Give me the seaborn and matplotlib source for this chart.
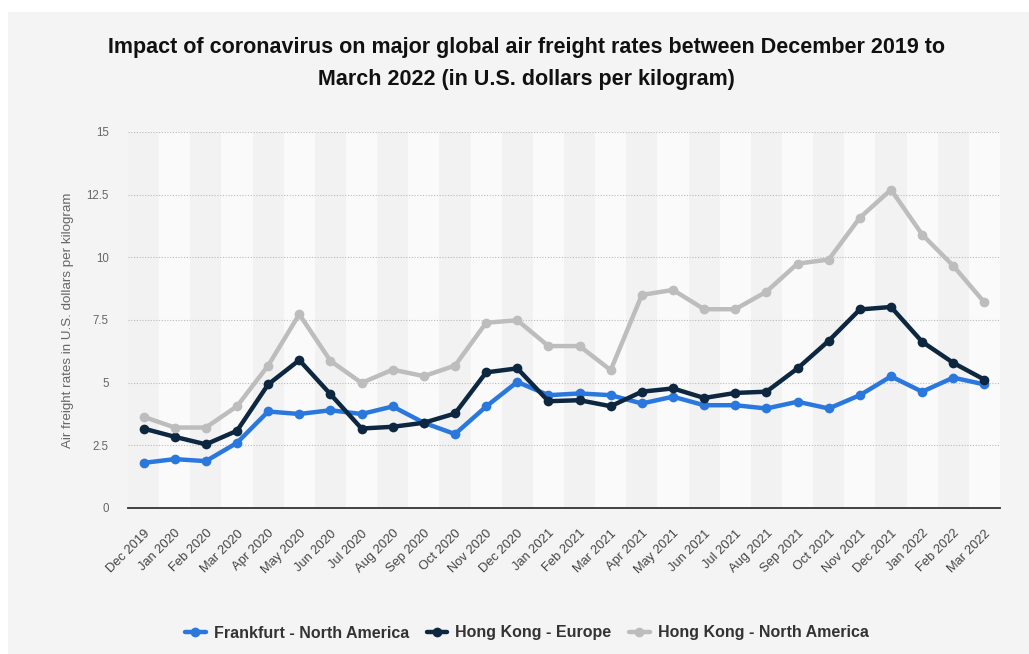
import matplotlib
matplotlib.use("Agg")
import matplotlib.pyplot as plt
import seaborn as sns
import pandas as pd
from matplotlib.patches import Rectangle
from matplotlib.lines import Line2D

months = ["Dec 2019", "Jan 2020", "Feb 2020", "Mar 2020", "Apr 2020", "May 2020", "Jun 2020",
          "Jul 2020", "Aug 2020", "Sep 2020", "Oct 2020", "Nov 2020", "Dec 2020", "Jan 2021",
          "Feb 2021", "Mar 2021", "Apr 2021", "May 2021", "Jun 2021", "Jul 2021", "Aug 2021",
          "Sep 2021", "Oct 2021", "Nov 2021", "Dec 2021", "Jan 2022", "Feb 2022", "Mar 2022"]

frankfurt_na = [1.8, 1.95, 1.87, 2.6, 3.85, 3.75, 3.9, 3.75, 4.05, 3.4, 2.95, 4.05, 5.03, 4.5,
                4.57, 4.5, 4.17, 4.44, 4.1, 4.1, 3.97, 4.24, 3.97, 4.5, 5.25, 4.64, 5.2, 4.93]
hongkong_eu = [3.17, 2.84, 2.54, 3.08, 4.93, 5.9, 4.54, 3.17, 3.24, 3.4, 3.77, 5.41, 5.57, 4.26,
               4.3, 4.06, 4.64, 4.77, 4.39, 4.59, 4.64, 5.57, 6.67, 7.92, 8.02, 6.63, 5.79, 5.12]
hongkong_na = [3.64, 3.21, 3.21, 4.06, 5.68, 7.73, 5.87, 4.99, 5.52, 5.26, 5.68, 7.39, 7.49, 6.46,
               6.46, 5.5, 8.5, 8.7, 7.93, 7.93, 8.63, 9.75, 9.91, 11.58, 12.7, 10.91, 9.66, 8.2]

series_names = ["Frankfurt - North America", "Hong Kong - Europe", "Hong Kong - North America"]
colors = ["#2a78de", "#0e2740", "#bdbdbd"]
y_ticks = [0, 2.5, 5, 7.5, 10, 12.5, 15]
y_tick_labels = ["0", "2.5", "5", "7.5", "10", "12.5", "15"]

rows = []
for name, vals in zip(series_names, [frankfurt_na, hongkong_eu, hongkong_na]):
    for i, v in enumerate(vals):
        rows.append({"idx": i, "month": months[i], "value": v, "series": name})
df = pd.DataFrame(rows)

sns.set_theme(style="white")
plt.rcParams["font.family"] = ["Liberation Sans", "DejaVu Sans"]

fig = plt.figure(figsize=(10.29, 6.54), dpi=100)
fig.patch.set_facecolor("#f4f4f4")
# white margin strips on top/left
fig.patches.append(Rectangle((0, 1 - 12 / 654), 1, 12 / 654, transform=fig.transFigure,
                             facecolor="white", edgecolor="none", zorder=0))
fig.patches.append(Rectangle((0, 0), 8 / 1029, 1, transform=fig.transFigure,
                             facecolor="white", edgecolor="none", zorder=0))

ax = fig.add_axes([128 / 1029, 1 - 508 / 654, (1000 - 128) / 1029, (508 - 132) / 654])
ax.set_facecolor("#fafafa")
for i in range(0, len(months), 2):
    ax.axvspan(i - 0.5, i + 0.5, color="#f2f2f2", lw=0, zorder=0)

sns.lineplot(data=df, x="idx", y="value", hue="series", hue_order=series_names,
             palette=colors, marker="o", markersize=7, markeredgewidth=0,
             linewidth=3.2, ax=ax, legend=False, zorder=3)

ax.set_xlim(-0.5, len(months) - 0.5)
ax.set_ylim(0, 15)
ax.set_yticks(y_ticks)
ax.set_yticklabels(y_tick_labels, color="#666666", fontsize=8.3)
ax.set_xticks(range(len(months)))
ax.set_xticklabels(months, rotation=45, ha="right", rotation_mode="anchor",
                   color="#444444", fontsize=9.3)
ax.tick_params(axis="y", length=0, pad=14)
ax.tick_params(axis="x", length=0, pad=14)
for y in y_ticks[1:]:
    ax.axhline(y, color="#bbbbbb", lw=0.8, ls=(0, (1, 1.5)), zorder=1)
for s in ["top", "right", "left"]:
    ax.spines[s].set_visible(False)
ax.spines["bottom"].set_color("#333333")
ax.spines["bottom"].set_linewidth(1.3)
ax.spines["bottom"].set_zorder(4)
ax.set_xlabel("")
ax.set_ylabel("Air freight rates in U.S. dollars per kilogram", color="#666666", fontsize=9.6,
              labelpad=9)

fig.text(0.512, 1 - 47 / 654,
         "Impact of coronavirus on major global air freight rates between December 2019 to",
         ha="center", va="center", fontsize=15.5, fontweight="bold", color="#111111")
fig.text(0.512, 1 - 80 / 654, "March 2022 (in U.S. dollars per kilogram)",
         ha="center", va="center", fontsize=15.5, fontweight="bold", color="#111111")

handles = [Line2D([0], [0], color=c, lw=3.2, marker="o", markersize=7, markeredgewidth=0)
           for c in colors]
leg = fig.legend(handles, series_names, loc="center", bbox_to_anchor=(0.512, 1 - 633 / 654),
                 ncol=3, frameon=False, fontsize=11.5, handlelength=1.3, columnspacing=1.1,
                 handletextpad=0.5)
for t in leg.get_texts():
    t.set_fontweight("bold")
    t.set_color("#333333")

fig.savefig("out.png", dpi=100, facecolor=fig.get_facecolor())
